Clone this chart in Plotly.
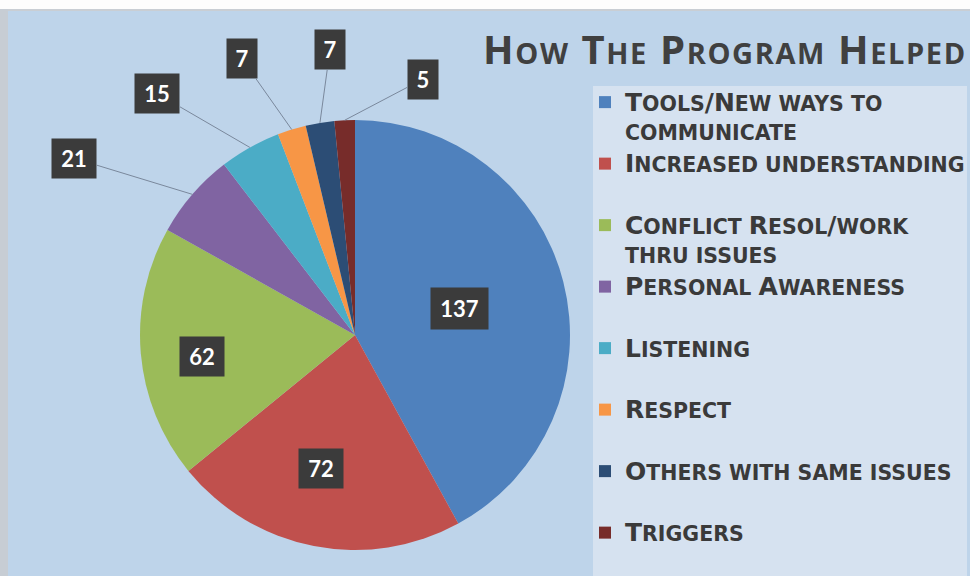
import numpy as np
import plotly.graph_objects as go
import textwrap

# ---------------- data ----------------
categories = [
    "Tools/New ways to communicate",
    "Increased understanding",
    "Conflict Resol/work thru issues",
    "Personal Awareness",
    "Listening",
    "Respect",
    "Others with same issues",
    "Triggers",
]
values = [137, 72, 62, 21, 15, 7, 7, 5]
title_text = "How The Program Helped"

# ---------------- style ----------------
colors = ["#4f81bd", "#c0504d", "#9bbb59", "#8064a2",
          "#4bacc6", "#f79646", "#2c4d75", "#772c2a"]
W, H = 970, 576
CX, CY, R = 355, 335, 215          # pie centre / radius in pixels
BG = "#bed4ea"


def small_caps(s, big_px, small_px):
    out, run, low = [], "", None
    for ch in s:
        is_low = ch.islower() or (ch == " " and low)
        if low is None:
            low = is_low
        if is_low != low:
            out.append((run, low))
            run, low = "", is_low
        run += ch
    if run:
        out.append((run, low))
    html = ""
    for txt, lw in out:
        size = small_px if lw else big_px
        html += f"<span style='font-size:{size}px'>{txt.upper()}</span>"
    return html


def legend_label(s, last):
    lines = textwrap.wrap(s, 23)
    lines = [small_caps(l, 25, 20.5) for l in lines]
    if not last:
        while len(lines) < 2:
            lines.append("&nbsp;")
    return "<br>".join(lines)


disp_labels = [legend_label(c, i == len(categories) - 1) for i, c in enumerate(categories)]

fig = go.Figure()
fig.add_trace(go.Pie(
    labels=disp_labels,
    values=values,
    sort=False,
    direction="clockwise",
    rotation=0,
    textinfo="none",
    marker=dict(colors=colors, line=dict(width=0)),
    domain=dict(x=[(CX - R) / W, (CX + R) / W],
                y=[1 - (CY + R) / H, 1 - (CY - R) / H]),
    hoverinfo="label+value",
))

# ---------------- data labels ----------------
vals = np.array(values, dtype=float)
cum = np.cumsum(vals) - vals / 2
theta = cum / vals.sum() * 2 * np.pi          # clockwise from 12 o'clock

inside_frac = {0: 0.50, 1: 0.64, 2: 0.72}
inside_rot = {0: 0.0, 1: 0.06, 2: -0.055}     # small angular nudges (radians)
outside_off = {3: (-118, -36), 4: (-93, -54), 5: (-50, -71),
               6: (10, -73), 7: (78, -41)}

annotations = []
for i, v in enumerate(values):
    s = str(v)
    bw = {1: 30, 2: 44, 3: 57}[len(s)]
    bh = 41 if len(s) == 3 else 39
    common = dict(xref="paper", yref="paper", text=f"<b>{s}</b>",
                  font=dict(family="Lato, Open Sans, sans-serif", size=22, color="white"),
                  bgcolor="#3b3b3b", borderpad=0, width=bw, height=bh,
                  align="center", valign="middle")
    if i in inside_frac:
        f = inside_frac[i]
        t = theta[i] + inside_rot[i]
        px = CX + f * R * np.sin(t)
        py = CY - f * R * np.cos(t)
        annotations.append(dict(x=px / W, y=1 - py / H, showarrow=False,
                                xanchor="center", yanchor="middle", **common))
    else:
        px = CX + R * np.sin(theta[i])
        py = CY - R * np.cos(theta[i])
        ax, ay = outside_off[i]
        annotations.append(dict(x=px / W, y=1 - py / H, showarrow=True,
                                arrowhead=0, arrowwidth=1, arrowcolor="#7a889c",
                                ax=ax, ay=ay, standoff=0, **common))

# title
title_html = ""
for word in title_text.split(" "):
    title_html += word[0] + f"<span style='font-size:29px'>{word[1:].upper()}</span> "
annotations.append(dict(x=481 / W, y=1 - 49 / H, xref="paper", yref="paper",
                        xanchor="left", yanchor="middle", showarrow=False,
                        text=f"<b><span style='letter-spacing:1.6px'>{title_html.strip()}</span></b>",
                        font=dict(family="Open Sans, Lato, sans-serif", size=40, color="#404040")))

shapes = [
    # legend panel
    dict(type="rect", xref="paper", yref="paper", x0=593 / W, x1=967 / W,
         y0=0, y1=1 - 86 / H, fillcolor="#d6e2f0", line=dict(width=0), layer="below"),
    # top white strip
    dict(type="rect", xref="paper", yref="paper", x0=0, x1=1,
         y0=1 - 9 / H, y1=1, fillcolor="#fdfdfd", line=dict(width=0), layer="below"),
    dict(type="rect", xref="paper", yref="paper", x0=0, x1=1,
         y0=1 - 11 / H, y1=1 - 9 / H, fillcolor="#c9ced4", line=dict(width=0), layer="below"),
    # left grey edge
    dict(type="rect", xref="paper", yref="paper", x0=0, x1=8 / W,
         y0=0, y1=1 - 9 / H, fillcolor="#c7cdd4", line=dict(width=0), layer="below"),
]

fig.update_layout(
    width=W, height=H, autosize=False,
    margin=dict(l=0, r=0, t=0, b=0),
    paper_bgcolor=BG,
    plot_bgcolor=BG,
    showlegend=True,
    legend=dict(x=585 / W, y=1 - 81 / H, xanchor="left", yanchor="top",
                bgcolor="rgba(0,0,0,0)", valign="top",
                font=dict(family="DejaVu Sans, Liberation Sans, sans-serif", size=22.5,
                          color="#3a3a3a", weight="bold"),
                itemclick=False, itemdoubleclick=False),
    annotations=annotations,
    shapes=shapes,
)

fig.write_html("out.html",
               config={"responsive": False, "displayModeBar": False},
               post_script="document.body.style.margin='0';")
